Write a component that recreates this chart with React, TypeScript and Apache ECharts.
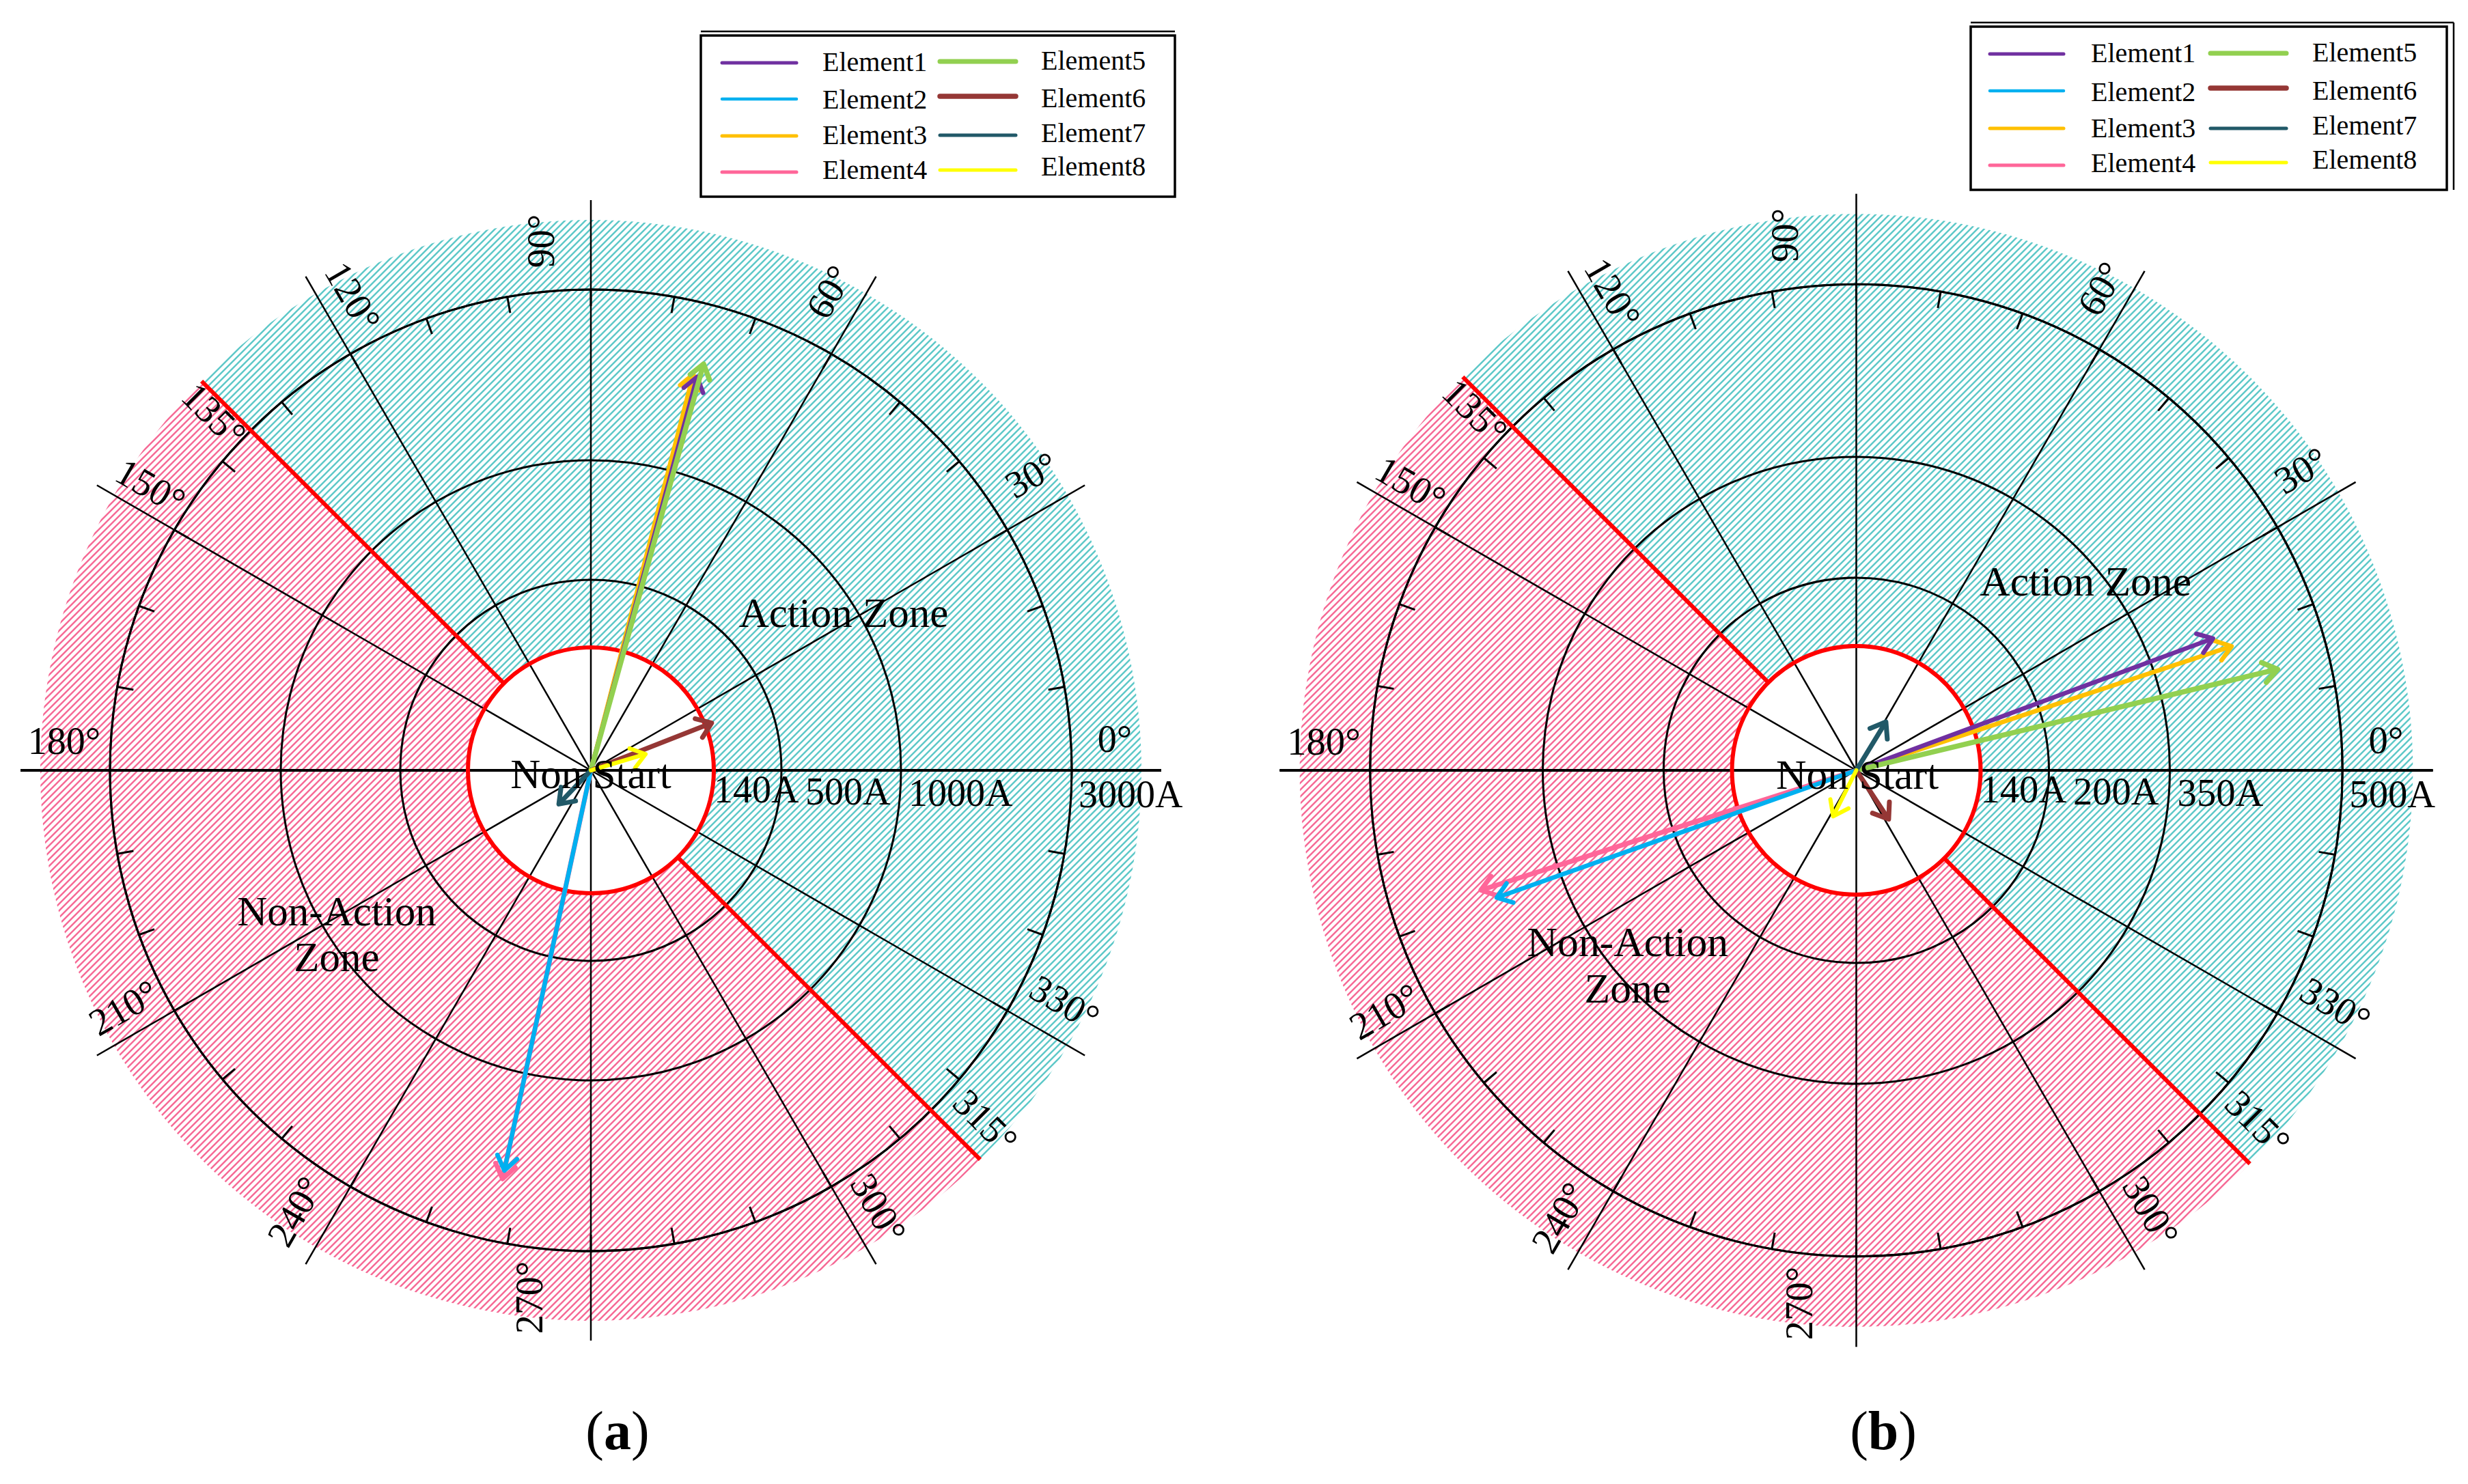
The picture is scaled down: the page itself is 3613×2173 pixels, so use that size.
import React, { useEffect, useRef } from 'react';
import * as echarts from 'echarts';

// ---------------- data ----------------
const ELEMENTS = ['Element1', 'Element2', 'Element3', 'Element4', 'Element5', 'Element6', 'Element7', 'Element8'];
const ELEMENT_COLORS = ['#7030a0', '#00b0f0', '#ffc000', '#ff6699', '#92d050', '#953735', '#215968', '#ffff00'];

// panel (a): current magnitude (A) and phase angle (deg)
const A_CURRENT = [2141, 2164, 2160, 2264, 2308, 176, 53, 65];
const A_ANGLE = [74.9, 257.8, 75.5, 257.8, 74.5, 21.4, 226.5, 16.5];
// panel (b)
const B_CURRENT = [408, 409, 421, 420, 454, 66, 64, 58];
const B_ANGLE = [20.3, 199.5, 18.3, 197.7, 13.5, 303.5, 58.6, 243.3];

// radial ring tick values (A)
const A_RING_VALUES = [140, 500, 1000, 3000];
const B_RING_VALUES = [140, 200, 350, 500];

// angle tick labels (deg)
const ANGLE_TICKS = [0, 30, 60, 90, 120, 135, 150, 180, 210, 240, 270, 300, 315, 330];
const MINOR_TICK_STEP = 10;
const BOUNDARY_ANGLES = [135, 315];
const ZONE_NAMES = ['Action Zone', 'Non-Action\nZone'];
const ZONE_FROM = [315, 135];
const ZONE_SPAN = [180, 180];
const NON_START = 'Non Start';

// ---------------- layout ----------------
const W = 3613;
const H = 2173;
const FONT = '"Liberation Serif", "Times New Roman", serif';
const TEAL = '#5ec8c8';
const PINK = '#f66a96';
const SPOKE_R = 835;
const RING_POS = [180, 279, 454, 704];
const HATCH_R = 806;
const TICK_LEN = 24;
const LABEL_R = [767, 775, 781, 775, 775, 758, 766, 771, 766, 776, 772, 766, 772, 771];
const RING_LABEL_X = [180, 314, 465, 714];
const RING_LABEL_Y = [28, 31, 33, 35];
const DRAW_ORDER = [3, 2, 0, 1, 4, 5, 6, 7];
const ARROW_W = [6.5, 6.5, 6.5, 7, 7.5, 7, 7, 6];
const LEGEND_W = [5, 4.5, 5, 5, 7, 7.5, 5, 5];
const HEAD_LEN = 25;
const HEAD_ANG = 36;

const PANELS = [
  {
    tag: 'a', cx: 865, cy: 1128, s: 1,
    current: A_CURRENT, angle: A_ANGLE, rings: A_RING_VALUES,
    labelD: [46, 52, 48, 73, 45, -22, 38, 43, 41, 52, 90, 44, 45, 52],
    action: [370, -231], nonStart: [0, 5], nonAction: [-372, 240], caption: [904, 2095],
    legend: {
      box: [1026, 52, 694, 236], topExtra: 46, rightExtra: null,
      lineX: [[1057, 1166], [1376, 1487]], textX: [1204, 1524],
      lineY: [[92, 145, 199, 252], [90, 141, 198, 249]],
      textY: [[90, 145, 197, 248], [88.5, 143, 194.5, 243.5]],
    },
  },
  {
    tag: 'b', cx: 2717.5, cy: 1128, s: 1.011,
    current: B_CURRENT, angle: B_ANGLE, rings: B_RING_VALUES,
    labelD: [44, 54, 42, 103, 40, -23, 36, 42, 39, 48, 83, 50, 50, 52],
    action: [332, -274], nonStart: [1.5, 6], nonAction: [-331, 282], caption: [2757, 2095],
    legend: {
      box: [2885, 39, 697, 239], topExtra: 33, rightExtra: 3592,
      lineX: [[2913, 3021], [3236, 3347]], textX: [3061, 3385],
      lineY: [[79, 133, 188, 242], [78, 129, 188, 238]],
      textY: [[77, 134, 187.5, 238.5], [76.5, 132.5, 183.5, 233.5]],
    },
  },
];

function toPos(v: number, ringValues: number[]): number {
  const xs = [0, ...ringValues];
  const ys = [0, ...RING_POS];
  for (let i = 1; i < xs.length; i++) {
    if (v <= xs[i] || i === xs.length - 1) {
      return ys[i - 1] + ((v - xs[i - 1]) / (xs[i] - xs[i - 1])) * (ys[i] - ys[i - 1]);
    }
  }
  return 0;
}

function makeHatch(color: string): string {
  const n = 10;
  const cv = document.createElement('canvas');
  cv.width = n;
  cv.height = n;
  const ctx = cv.getContext('2d') as CanvasRenderingContext2D;
  ctx.fillStyle = '#ffffff';
  ctx.fillRect(0, 0, n, n);
  ctx.strokeStyle = color;
  ctx.lineWidth = 2.5;
  ctx.beginPath();
  ctx.moveTo(-3, n + 3); ctx.lineTo(n + 3, -3);
  ctx.moveTo(-3, 3); ctx.lineTo(3, -3);
  ctx.moveTo(n - 3, n + 3); ctx.lineTo(n + 3, n - 3);
  ctx.stroke();
  return cv.toDataURL();
}

function txtStyle(text: string, size: number, align = 'center', vAlign = 'middle', extra: any = {}) {
  return {
    text, fill: '#000', font: `${size}px ${FONT}`,
    align, verticalAlign: vAlign, textAlign: align, textVerticalAlign: vAlign, ...extra,
  };
}

function buildOption() {
  const teal = { image: makeHatch(TEAL), repeat: 'repeat', imageWidth: 10, imageHeight: 10 };
  const pink = { image: makeHatch(PINK), repeat: 'repeat', imageWidth: 10, imageHeight: 10 };
  const polar: any[] = [];
  const angleAxis: any[] = [];
  const radiusAxis: any[] = [];
  const series: any[] = [];
  const graphic: any[] = [];
  const hidden = { axisLine: { show: false }, axisTick: { show: false }, axisLabel: { show: false }, splitLine: { show: false } };

  PANELS.forEach((p) => {
    const main = polar.length;
    polar.push({ center: [p.cx, p.cy], radius: SPOKE_R * p.s });
    angleAxis.push({
      polarIndex: main, type: 'value', min: 0, max: 360, interval: 30, startAngle: 0, clockwise: false,
      axisLine: { show: false }, axisTick: { show: false }, axisLabel: { show: false },
      splitLine: { show: true, lineStyle: { color: '#000', width: 2.5 * p.s } }, z: 2,
    });
    radiusAxis.push({ polarIndex: main, type: 'value', min: 0, max: SPOKE_R, ...hidden });

    // thin annulus on the outer ring whose angle split lines are the 10-degree minor ticks
    const tickPolar = polar.length;
    polar.push({ center: [p.cx, p.cy], radius: [(RING_POS[3] - TICK_LEN) * p.s, RING_POS[3] * p.s] });
    angleAxis.push({
      polarIndex: tickPolar, type: 'value', min: 0, max: 360, interval: MINOR_TICK_STEP, startAngle: 0, clockwise: false,
      axisLine: { show: false }, axisTick: { show: false }, axisLabel: { show: false },
      splitLine: { show: true, lineStyle: { color: '#000', width: 3 * p.s } }, z: 5,
    });
    radiusAxis.push({ polarIndex: tickPolar, type: 'value', min: RING_POS[3] - TICK_LEN, max: RING_POS[3], ...hidden });

    const unitOf = (api: any) => {
      const c = api.coord([0, 0]);
      const q = api.coord([100, 0]);
      return { c, u: (q[0] - c[0]) / 100 };
    };

    // hatched zones
    series.push({
      type: 'custom', name: `zones-${p.tag}`, coordinateSystem: 'polar', polarIndex: main, z: 1, silent: true,
      dimensions: ['r', 'a', 'span', 'k'], encode: { radius: 0, angle: 1 },
      data: ZONE_FROM.map((f, i) => [HATCH_R, f, ZONE_SPAN[i], i]),
      renderItem: (params: any, api: any) => {
        const c = api.coord([0, 0]);
        const r = api.coord([api.value(0), 0])[0] - c[0];
        const r0 = api.coord([RING_POS[0], 0])[0] - c[0];
        const from = api.value(1);
        const span = api.value(2);
        const d2r = Math.PI / 180;
        let start = -(from + span);
        while (start < -180) start += 360;
        const end = start + span;
        return {
          type: 'sector',
          shape: { cx: c[0], cy: c[1], r, r0, startAngle: start * d2r, endAngle: end * d2r, clockwise: true },
          style: { fill: api.value(3) === 0 ? teal : pink, stroke: 'none' },
        };
      },
    });

    // outer ring on the tick annulus (keeps that polar populated)
    series.push({
      type: 'custom', name: `outer-${p.tag}`, coordinateSystem: 'polar', polarIndex: tickPolar, z: 5, silent: true,
      dimensions: ['r', 'a'], encode: { radius: 0, angle: 1 },
      data: [[RING_POS[3], 0]],
      renderItem: (params: any, api: any) => {
        const c = params.coordSys;
        return { type: 'circle', shape: { cx: c.cx, cy: c.cy, r: c.r }, style: { fill: 'none', stroke: '#000', lineWidth: 3 * p.s } };
      },
    });

    // thick horizontal axis
    series.push({
      type: 'custom', name: `axis-${p.tag}`, coordinateSystem: 'polar', polarIndex: main, z: 3, silent: true,
      dimensions: ['r', 'a'], encode: { radius: 0, angle: 1 },
      data: [[SPOKE_R, 0], [SPOKE_R, 180]],
      renderItem: (params: any, api: any) => {
        const { c, u } = unitOf(api);
        const t = api.coord([api.value(0), api.value(1)]);
        return { type: 'line', shape: { x1: c[0], y1: c[1], x2: t[0], y2: t[1] }, style: { stroke: '#000', lineWidth: 4 * u } };
      },
    });

    // rings + ring labels
    series.push({
      type: 'custom', name: `rings-${p.tag}`, coordinateSystem: 'polar', polarIndex: main, z: 4, silent: true,
      dimensions: ['r', 'a', 'k'], encode: { radius: 0, angle: 1 },
      data: RING_POS.map((r, i) => [r, 0, i]),
      renderItem: (params: any, api: any) => {
        const i = api.value(2);
        const rv = api.value(0);
        const { c, u } = unitOf(api);
        const r = api.coord([rv, 0])[0] - c[0];
        const red = i === 0;
        return {
          type: 'group',
          children: [
            { type: 'circle', shape: { cx: c[0], cy: c[1], r }, style: { fill: 'none', stroke: red ? '#ff0000' : '#000', lineWidth: (red ? 6 : 3) * u } },
            { type: 'text', x: c[0] + RING_LABEL_X[i] * u, y: c[1] + RING_LABEL_Y[i] * u, style: txtStyle(p.rings[i] + 'A', 56 * u, 'left', 'middle') },
          ],
        };
      },
    });

    // red zone boundaries
    series.push({
      type: 'custom', name: `boundary-${p.tag}`, coordinateSystem: 'polar', polarIndex: main, z: 5, silent: true,
      dimensions: ['r', 'a'], encode: { radius: 0, angle: 1 },
      data: BOUNDARY_ANGLES.map((a) => [HATCH_R, a]),
      renderItem: (params: any, api: any) => {
        const { u } = unitOf(api);
        const a0 = api.coord([RING_POS[0], api.value(1)]);
        const a1 = api.coord([api.value(0), api.value(1)]);
        return { type: 'line', shape: { x1: a0[0], y1: a0[1], x2: a1[0], y2: a1[1] }, style: { stroke: '#ff0000', lineWidth: 6 * u } };
      },
    });

    // current vectors
    series.push({
      type: 'custom', name: `vectors-${p.tag}`, coordinateSystem: 'polar', polarIndex: main, z: 6, silent: true,
      dimensions: ['r', 'a', 'k'], encode: { radius: 0, angle: 1 },
      data: DRAW_ORDER.map((i) => [toPos(p.current[i], p.rings), p.angle[i], i]),
      renderItem: (params: any, api: any) => {
        const i = api.value(2);
        const { u } = unitOf(api);
        const c = api.coord([0, api.value(1)]);
        const t = api.coord([api.value(0), api.value(1)]);
        const dx = t[0] - c[0];
        const dy = t[1] - c[1];
        const L = Math.hypot(dx, dy) || 1;
        const ux = dx / L;
        const uy = dy / L;
        const hl = HEAD_LEN * u;
        const ha = (HEAD_ANG * Math.PI) / 180;
        const cs = Math.cos(ha);
        const sn = Math.sin(ha);
        const b1 = [t[0] - hl * (ux * cs - uy * sn), t[1] - hl * (ux * sn + uy * cs)];
        const b2 = [t[0] - hl * (ux * cs + uy * sn), t[1] - hl * (-ux * sn + uy * cs)];
        const color = ELEMENT_COLORS[i];
        const w = ARROW_W[i] * u;
        return {
          type: 'group',
          children: [
            { type: 'line', shape: { x1: c[0], y1: c[1], x2: t[0] - ux * w * 0.4, y2: t[1] - uy * w * 0.4 }, style: { stroke: color, lineWidth: w, lineCap: 'round' } },
            { type: 'polyline', shape: { points: [b1, [t[0], t[1]], b2] }, style: { stroke: color, fill: 'none', lineWidth: w, lineCap: 'round', lineJoin: 'round' } },
          ],
        };
      },
    });

    // angle labels
    series.push({
      type: 'custom', name: `angles-${p.tag}`, coordinateSystem: 'polar', polarIndex: main, z: 8, silent: true,
      dimensions: ['r', 'a', 'k'], encode: { radius: 0, angle: 1 },
      data: ANGLE_TICKS.map((a, i) => [LABEL_R[i], a, i]),
      renderItem: (params: any, api: any) => {
        const i = api.value(2);
        const th = api.value(1);
        const { u } = unitOf(api);
        const pt = api.coord([api.value(0), th]);
        const rho = th <= 90 ? th : th <= 270 ? th - 180 : th - 360;
        const rr = (rho * Math.PI) / 180;
        const d = p.labelD[i] * u;
        return {
          type: 'text',
          x: pt[0] - d * Math.sin(rr),
          y: pt[1] - d * Math.cos(rr),
          rotation: rr,
          style: txtStyle(th + '°', 56 * u),
        };
      },
    });

    // zone texts
    const s = p.s;
    graphic.push({ type: 'text', z: 20, x: p.cx + p.action[0] * s, y: p.cy + p.action[1] * s, style: txtStyle(ZONE_NAMES[0], 61 * s) });
    graphic.push({ type: 'text', z: 20, x: p.cx + p.nonStart[0] * s, y: p.cy + p.nonStart[1] * s, style: txtStyle(NON_START, 61 * s) });
    graphic.push({ type: 'text', z: 20, x: p.cx + p.nonAction[0] * s, y: p.cy + p.nonAction[1] * s, style: txtStyle(ZONE_NAMES[1], 61 * s, 'center', 'middle', { lineHeight: 67 * s }) });

    // caption
    graphic.push({
      type: 'text', z: 20, x: p.caption[0], y: p.caption[1],
      style: {
        text: `{p|(}{b|${p.tag}}{p|)}`, align: 'center', verticalAlign: 'middle', textAlign: 'center', textVerticalAlign: 'middle',
        rich: { p: { font: `80px ${FONT}`, fill: '#000' }, b: { font: `bold 80px ${FONT}`, fill: '#000' } },
      },
    });

    // legend box
    const lg = p.legend;
    const [bx, by, bw, bh] = lg.box;
    graphic.push({ type: 'rect', z: 20, shape: { x: bx, y: by, width: bw, height: bh }, style: { fill: '#fff', stroke: '#000', lineWidth: 3.5 } });
    graphic.push({ type: 'line', z: 20, shape: { x1: bx, y1: lg.topExtra, x2: lg.rightExtra ?? bx + bw, y2: lg.topExtra }, style: { stroke: '#000', lineWidth: 2.5 } });
    if (lg.rightExtra != null) {
      graphic.push({ type: 'line', z: 20, shape: { x1: lg.rightExtra, y1: lg.topExtra, x2: lg.rightExtra, y2: by + bh }, style: { stroke: '#000', lineWidth: 2.5 } });
    }
    ELEMENTS.forEach((name, i) => {
      const col = i < 4 ? 0 : 1;
      const row = i % 4;
      const ly = lg.lineY[col][row];
      graphic.push({
        type: 'line', z: 21,
        shape: { x1: lg.lineX[col][0], y1: ly, x2: lg.lineX[col][1], y2: ly },
        style: { stroke: ELEMENT_COLORS[i], lineWidth: LEGEND_W[i], lineCap: 'round' },
      });
      graphic.push({ type: 'text', z: 21, x: lg.textX[col], y: lg.textY[col][row], style: txtStyle(name, 40, 'left', 'middle') });
    });
  });

  return {
    animation: false,
    backgroundColor: '#ffffff',
    polar,
    angleAxis,
    radiusAxis,
    series,
    graphic: { elements: graphic },
  };
}

export default function App() {
  const ref = useRef<HTMLDivElement>(null);
  useEffect(() => {
    document.body.style.margin = '0';
    const chart = echarts.init(ref.current as HTMLDivElement, null, { renderer: 'svg', width: W, height: H });
    chart.setOption(buildOption() as any);
    return () => chart.dispose();
  }, []);
  return <div ref={ref} style={{ width: W, height: H }} />;
}
